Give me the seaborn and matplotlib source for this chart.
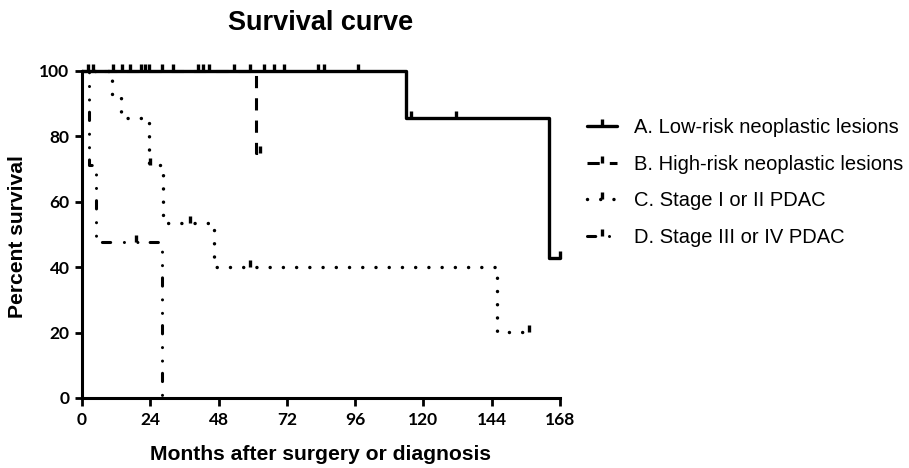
import matplotlib
matplotlib.use("Agg")
import matplotlib.pyplot as plt
import seaborn as sns
from matplotlib.lines import Line2D

# ---------------- data ----------------
labels = ["A. Low-risk neoplastic lesions", "B. High-risk neoplastic lesions",
          "C. Stage I or II PDAC", "D. Stage III or IV PDAC"]

a_time = [0, 114, 164, 168]
a_surv = [100, 85.7, 42.9, 42.9]
a_cens_t = [2.2, 3.8, 11, 14.2, 17, 20.8, 23.5, 28, 32, 40.8, 42.5, 44.5,
            53.5, 64, 67.5, 71, 83, 85, 97, 115.5, 131.5, 168]
a_cens_s = [100] * 19 + [85.7, 85.7, 42.9]

b_time = [0, 61, 62.5]
b_surv = [100, 75, 75]
b_cens_t = [22, 59, 62.5]
b_cens_s = [100, 100, 75]

c_time = [0, 10.5, 13.7, 23.5, 28.5, 46.5, 146, 157]
c_surv = [100, 92.9, 85.7, 71.4, 53.6, 40.2, 20.1, 20.1]
c_cens_t = [24, 38, 59, 157]
c_cens_s = [71.4, 53.6, 40.2, 20.1]

d_time = [0, 2.6, 4.9, 28.2]
d_surv = [100, 71.4, 47.6, 0]
d_cens_t = [19]
d_cens_s = [47.6]

x_ticks = [0, 24, 48, 72, 96, 120, 144, 168]
y_ticks = [0, 20, 40, 60, 80, 100]

# ---------------- styling ----------------
sns.set_theme(style="white")
plt.rcParams["font.family"] = ["Lato", "DejaVu Sans"]
for k in ("text.color", "axes.labelcolor", "xtick.color", "ytick.color"):
    plt.rcParams[k] = "black"
ARIAL = ["Liberation Sans", "DejaVu Sans"]

LW = 2.2
styles = {
    "A": dict(linestyle="-", linewidth=2.4),
    "B": dict(linestyle=(0, (4.0, 3.3)), linewidth=LW, dash_capstyle="butt"),
    "C": dict(linestyle=(0, (0.01, 3.8)), linewidth=2.5, dash_capstyle="round"),
    "D": dict(linestyle=(0, (2.7, 4.5, 0.01, 4.4, 0.01, 4.0)), linewidth=LW,
              dash_capstyle="round"),
}

fig = plt.figure(figsize=(9.09, 4.68), dpi=100)
ax = fig.add_axes([0.0902, 0.1496, 0.5259, 0.6987])

series = [
    ("A", a_time, a_surv, a_cens_t, a_cens_s),
    ("B", b_time, b_surv, b_cens_t, b_cens_s),
    ("C", c_time, c_surv, c_cens_t, c_cens_s),
    ("D", d_time, d_surv, d_cens_t, d_cens_s),
]

tick_kw = dict(marker=2, markersize=4.8, markeredgewidth=2.4,
               markeredgecolor="black", markerfacecolor="black")

for key, t, s, ct, cs in series:
    sns.lineplot(x=t, y=s, ax=ax, color="black", drawstyle="steps-post",
                 estimator=None, sort=False, clip_on=False, zorder=3,
                 **styles[key])
    sns.lineplot(x=ct, y=cs, ax=ax, color="black", linestyle="none",
                 estimator=None, sort=False, clip_on=False, zorder=4,
                 **tick_kw)

ax.set_xlim(0, 168)
ax.set_ylim(0, 100)
ax.set_xticks(x_ticks)
ax.set_yticks(y_ticks)
ax.set_xticklabels([str(v) for v in x_ticks])
ax.set_yticklabels([str(v) for v in y_ticks])
for lab in ax.get_xticklabels() + ax.get_yticklabels():
    lab.set_fontweight("bold")
    lab.set_fontsize(12.5)
    lab.set_color("black")
ax.tick_params(axis="both", which="major", direction="out", length=5,
               width=2.0, color="black", pad=4, bottom=True, left=True)
ax.tick_params(axis="x", length=6)

sns.despine(ax=ax)
for sp in ("left", "bottom"):
    ax.spines[sp].set_linewidth(2.2)
    ax.spines[sp].set_color("black")
ax.grid(False)
ax.set_xlabel("")
ax.set_ylabel("")

fig.text(320.5 / 909, 1 - 30 / 468, "Survival curve", ha="center",
         va="baseline", fontsize=19.5, fontweight="bold", family=ARIAL,
         color="black")
fig.text(320 / 909, 1 - 454 / 468, "Months after surgery or diagnosis",
         ha="center", va="center", fontsize=15.2, fontweight="bold",
         family=ARIAL, color="black")
fig.text(18 / 909, 1 - 237 / 468, "Percent survival", ha="center",
         va="center", rotation=90, fontsize=15.2, fontweight="bold",
         family=ARIAL, color="black")

handles = []
for key, *_ in series:
    handles.append(Line2D([0], [0], color="black", **styles[key], **tick_kw))
leg = fig.legend(handles, labels, loc="center left",
                 bbox_to_anchor=(587 / 909, 1 - 182.5 / 468),
                 frameon=False, borderpad=0, borderaxespad=0,
                 handlelength=1.5, handletextpad=0.85, labelspacing=0.87,
                 numpoints=1, labelcolor="black",
                 prop={"family": ARIAL, "size": 14.5})

fig.savefig("out.png", dpi=100)
